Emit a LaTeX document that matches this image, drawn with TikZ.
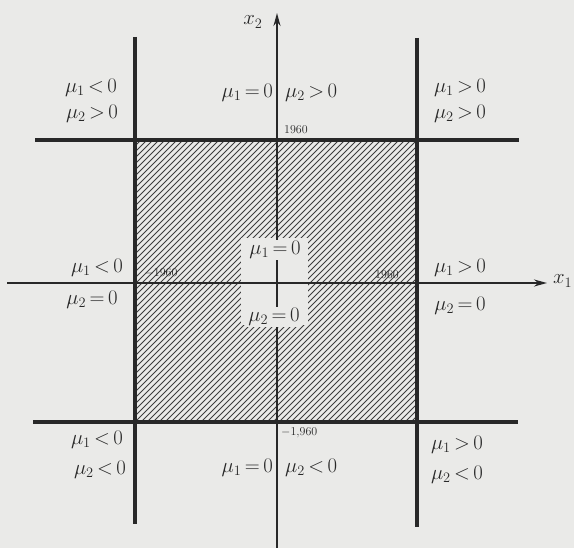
\documentclass[tikz,border=0pt]{standalone}
\usetikzlibrary{arrows.meta}
\definecolor{paper}{RGB}{234,234,232}
\definecolor{ink}{RGB}{40,40,40}
\newcommand\myrel[1]{\mkern3mu{#1}\mkern3mu}
\begin{document}
\begin{tikzpicture}[x=1pt,y=-1pt,
  heavy/.style={line width=4pt, draw=ink},
  axis/.style={line width=1.6pt, draw=ink, -{Stealth[length=13pt,width=7pt]}},
  hatch/.style={line width=1pt, draw=ink!90},
  lab/.style={font=\fontsize{22}{26}\selectfont, inner sep=1pt, text=ink},
  num/.style={font=\fontsize{12}{14}\selectfont, inner sep=1pt, text=ink}]
\fill[paper] (0,0) rectangle (574,548);
\useasboundingbox (0,0) rectangle (574,548);
% hatched square
\begin{scope}
  \clip (135,140) rectangle (417,422);
  \foreach \i in {-288,-282,...,288} \draw[hatch] (135+\i,422) -- ++(282,-282);
\end{scope}
\fill[paper] (241,238) rectangle (308,325);
% axes
\coordinate (ax2s) at (277,548); \coordinate (ax2e) at (277,13);
\coordinate (ax1s) at (7,283);   \coordinate (ax1e) at (547,283);
\draw[axis] (ax2s) -- (ax2e);
\draw[axis] (ax1s) -- (ax1e);
% heavy boundary lines
\coordinate (t1) at (35,140);  \coordinate (t2) at (519,140);
\coordinate (b1) at (33,422);  \coordinate (b2) at (518,422);
\coordinate (l1) at (135,37);  \coordinate (l2) at (135,524);
\coordinate (r1) at (417,38);  \coordinate (r2) at (417,527);
\draw[heavy] (t1) -- (t2);
\draw[heavy] (b1) -- (b2);
\draw[heavy] (l1) -- (l2);
\draw[heavy] (r1) -- (r2);
% axis labels
\node[lab] (x2) at (253,22) {$x_2$};
\node[lab, anchor=west] (x1) at (552,281) {$x_1$};
% numbers
\node[num, anchor=west] (n1) at (283,130) {1960};
\node[num] (n2) at (161,273) {$-$1960};
\node[num] (n3) at (387,275) {1960};
\node[num, anchor=west] (n4) at (280,433) {$-$1,960};
% region labels
\node[lab] (a1) at (91,88) {$\mu_1\myrel{<}0$};
\node[lab] (a2) at (92,114) {$\mu_2\myrel{>}0$};
\node[lab, anchor=east] (a3) at (274,93) {$\mu_1\myrel{=}0$};
\node[lab, anchor=west] (a4) at (284,93) {$\mu_2\myrel{>}0$};
\node[lab] (a5) at (460,88) {$\mu_1\myrel{>}0$};
\node[lab] (a6) at (460,114) {$\mu_2\myrel{>}0$};
\node[lab] (c1) at (97,268) {$\mu_1\myrel{<}0$};
\node[lab] (c2) at (92,300) {$\mu_2\myrel{=}0$};
\node[lab, fill=paper] (c3) at (275,250) {$\mu_1\myrel{=}0$};
\node[lab, fill=paper] (c4) at (274,317) {$\mu_2\myrel{=}0$};
\node[lab] (c5) at (460,268) {$\mu_1\myrel{>}0$};
\node[lab] (c6) at (460,306) {$\mu_2\myrel{=}0$};
\node[lab] (d1) at (97,440) {$\mu_1\myrel{<}0$};
\node[lab] (d2) at (100,470) {$\mu_2\myrel{<}0$};
\node[lab, anchor=east] (d3) at (274,468) {$\mu_1\myrel{=}0$};
\node[lab, anchor=west] (d4) at (284,468) {$\mu_2\myrel{<}0$};
\node[lab] (d5) at (457,445) {$\mu_1\myrel{>}0$};
\node[lab] (d6) at (457,475) {$\mu_2\myrel{<}0$};
\end{tikzpicture}
\end{document}
